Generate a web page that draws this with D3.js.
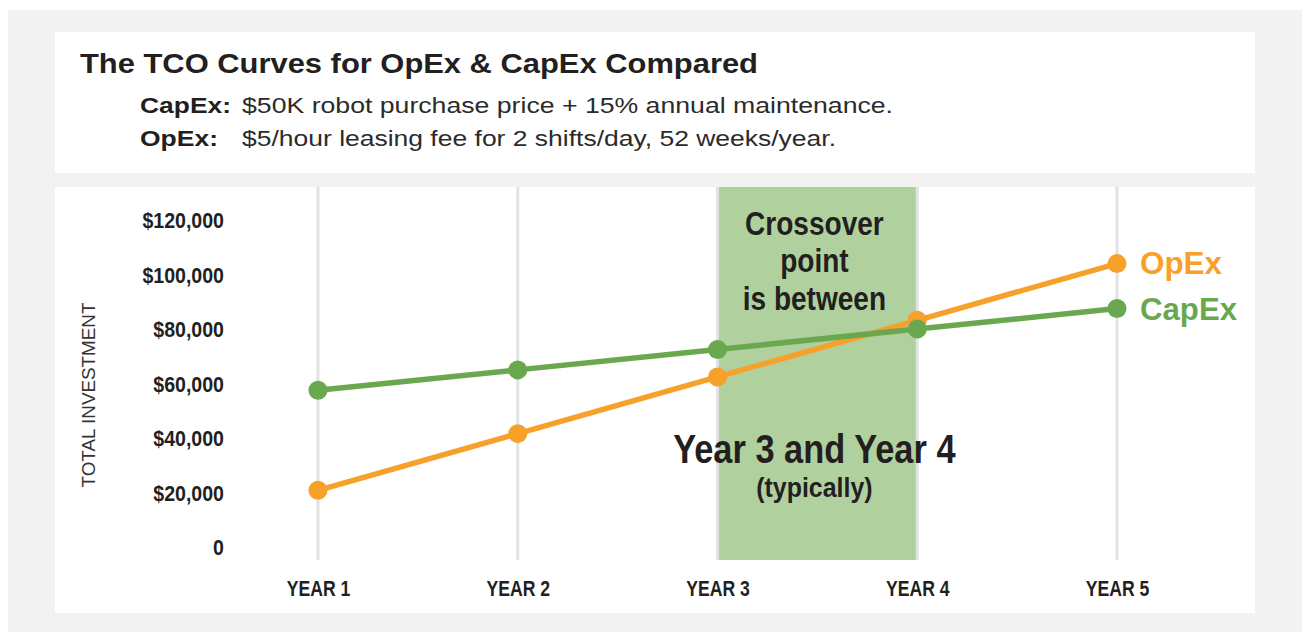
<!DOCTYPE html>
<html><head><meta charset="utf-8">
<script src="https://cdn.jsdelivr.net/npm/d3@7"></script>
<style>
body{margin:0;background:#fff;}
svg{display:block;}
text{font-family:"Liberation Sans",Arial,Helvetica,sans-serif;}
</style></head>
<body><svg id="c" width="1308" height="634"></svg>
<script>
const years = ["YEAR 1","YEAR 2","YEAR 3","YEAR 4","YEAR 5"];
const opex = [20800, 41600, 62400, 83200, 104000];
const capex = [57500, 65000, 72500, 80000, 87500];
const yTicks = [0, 20000, 40000, 60000, 80000, 100000, 120000];
const yTickLabels = ["0","$20,000","$40,000","$60,000","$80,000","$100,000","$120,000"];
const crossoverBand = ["YEAR 3","YEAR 4"];
const seriesNames = ["OpEx","CapEx"];

const svg = d3.select("#c");
const orange = "#f7a02a", green = "#6aa84f", ink = "#231f20";

svg.append("rect").attr("x",8).attr("y",10).attr("width",1294).attr("height",622).attr("fill","#f2f2f2");
svg.append("rect").attr("x",55).attr("y",32).attr("width",1200).attr("height",141).attr("fill","#fff");
svg.append("rect").attr("x",55).attr("y",187).attr("width",1200).attr("height",426).attr("fill","#fff");

// header
svg.append("text").attr("x",80).attr("y",73).attr("font-weight","bold").attr("font-size",28).attr("fill",ink)
  .attr("textLength",678).attr("lengthAdjust","spacingAndGlyphs")
  .text("The TCO Curves for OpEx & CapEx Compared");
const sub = [["CapEx:",91,"$50K robot purchase price + 15% annual maintenance.",651,113],
             ["OpEx:",78,"$5/hour leasing fee for 2 shifts/day, 52 weeks/year.",594,146]];
sub.forEach(s=>{
  svg.append("text").attr("x",140).attr("y",s[4]).attr("font-weight","bold").attr("font-size",22).attr("fill",ink)
    .attr("textLength",s[1]).attr("lengthAdjust","spacingAndGlyphs").text(s[0]);
  svg.append("text").attr("x",242).attr("y",s[4]).attr("font-size",22).attr("fill","#2b2b2b")
    .attr("textLength",s[3]).attr("lengthAdjust","spacingAndGlyphs").text(s[2]);
});

const x = d3.scalePoint().domain(years).range([318,1117]);
const y = d3.scaleLinear().domain([0,120000]).range([547,220]);

// band
svg.append("rect").attr("x",x(crossoverBand[0])).attr("y",187)
  .attr("width",x(crossoverBand[1])-x(crossoverBand[0])).attr("height",560-187).attr("fill","#b0d19e");

// gridlines
svg.append("g").selectAll("line").data(years).join("line")
  .attr("x1",d=>x(d)).attr("x2",d=>x(d)).attr("y1",187).attr("y2",560)
  .attr("stroke","#dfe3e3").attr("stroke-width",3);

// y axis
const yAxis = d3.axisLeft(y).tickValues(yTicks).tickSize(0).tickPadding(0)
  .tickFormat((d,i)=>yTickLabels[i]);
const ya = svg.append("g").attr("transform","translate(224,0)").call(yAxis);
ya.select(".domain").remove();
ya.selectAll("text").attr("font-family","Liberation Sans, Arial, sans-serif").attr("font-weight","bold")
  .attr("font-size",22).attr("fill",ink).attr("x",0).attr("dy","0.36em").attr("transform","scale(0.89,1)");

// x axis
const xAxis = d3.axisBottom(x).tickSize(0).tickPadding(0);
const xa = svg.append("g").attr("transform","translate(0,596)").call(xAxis);
xa.select(".domain").remove();
xa.selectAll("text").attr("font-family","Liberation Sans, Arial, sans-serif").attr("font-weight","bold")
  .attr("font-size",22).attr("fill",ink).attr("y",0).attr("dy",0).attr("transform","scale(0.8,1)");

svg.append("text").attr("transform","translate(95,395) rotate(-90)").attr("text-anchor","middle")
  .attr("font-size",19).attr("fill","#333").attr("textLength",185).attr("lengthAdjust","spacingAndGlyphs")
  .text("TOTAL INVESTMENT");

// annotation
const cx = (x(crossoverBand[0])+x(crossoverBand[1]))/2 - 3;
const ann = [["Crossover",235,33,0.85],["point",272,33,0.85],["is between",310,33,0.85],
             ["Year 3 and Year 4",463,40,0.86],["(typically)",497,28,0.89]];
ann.forEach(a=>{
  svg.append("text").attr("transform",`translate(${cx},${a[1]}) scale(${a[3]},1)`).attr("text-anchor","middle")
    .attr("font-weight","bold").attr("font-size",a[2]).attr("fill",ink).text(a[0]);
});

// lines
const line = d3.line().x((d,i)=>x(years[i])).y(d=>y(d));
[[opex,orange],[capex,green]].forEach(([data,col])=>{
  svg.append("path").datum(data).attr("d",line).attr("fill","none").attr("stroke",col).attr("stroke-width",5.5);
  svg.append("g").selectAll("circle").data(data).join("circle")
    .attr("cx",(d,i)=>x(years[i])).attr("cy",d=>y(d)).attr("r",9.5).attr("fill",col);
});

// legend labels
svg.append("text").attr("x",1140).attr("y",y(opex[4])+10)
  .attr("font-weight","bold").attr("font-size",31).attr("fill",orange)
  .attr("textLength",82).attr("lengthAdjust","spacingAndGlyphs").text(seriesNames[0]);
svg.append("text").attr("x",1140).attr("y",y(capex[4])+11)
  .attr("font-weight","bold").attr("font-size",31).attr("fill",green)
  .attr("textLength",97).attr("lengthAdjust","spacingAndGlyphs").text(seriesNames[1]);
</script></body></html>
